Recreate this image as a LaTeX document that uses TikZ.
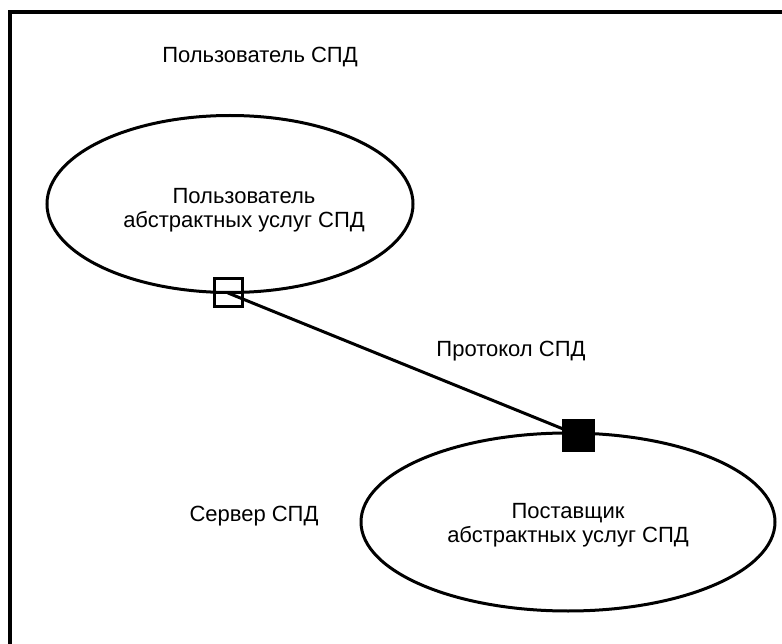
\documentclass[tikz,border=0pt]{standalone}
\usepackage{fontspec}
\setmainfont{Liberation Sans}
\usetikzlibrary{shapes.geometric}
\begin{document}
\begin{tikzpicture}[x=1pt,y=-1pt,
  lbl/.style={font=\fontsize{22}{24}\selectfont, align=center, inner sep=0pt},
  oval/.style={ellipse, draw, line width=3pt, inner sep=0pt},
  portbox/.style={rectangle, draw, line width=3pt, minimum size=28pt, inner sep=0pt},
  frameline/.style={line width=4pt}]
\useasboundingbox (0,0) rectangle (782,644);
\clip (0,0) rectangle (782,644);
\fill[white] (0,0) rectangle (782,644);
\draw[frameline] (10,12) rectangle (800,670);
\node[oval, minimum width=366pt, minimum height=177pt] (e1) at (230,204) {};
\node[oval, minimum width=414pt, minimum height=178pt] (e2) at (568,522) {};
\node[portbox] (p1) at (228,293) {};
\node[portbox, fill=black, minimum size=30pt] (p2) at (578,435) {};
\draw[line width=3pt] (p1.center) -- (p2.center);
\node[lbl] (t1) at (244,210) {Пользователь\\абстрактных услуг СПД};
\node[lbl] (t2) at (568,525) {Поставщик\\абстрактных услуг СПД};
\node[lbl] (u) at (260,57) {Пользователь СПД};
\node[lbl] (pr) at (511,351) {Протокол СПД};
\node[lbl] (sv) at (254,516) {Сервер СПД};
\end{tikzpicture}
\end{document}
